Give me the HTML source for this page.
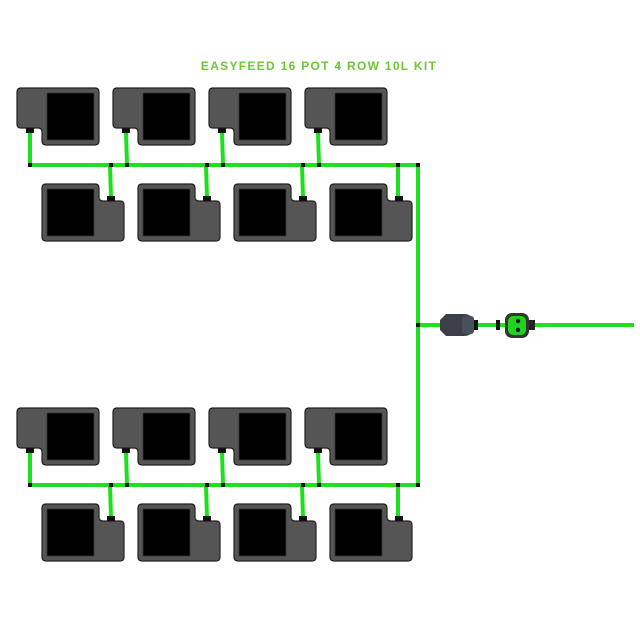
<!DOCTYPE html>
<html><head><meta charset="utf-8"><style>html,body{margin:0;padding:0;background:#fff}svg{display:block}</style></head><body>
<svg width="640" height="640" viewBox="0 0 640 640" xmlns="http://www.w3.org/2000/svg">
<defs>
<g id="pot">
<path d="M4,0 H78 Q82,0 82,4 V53 Q82,57 78,57 H29 Q25,57 25,53 V44 Q25,40 21,40 H4 Q0,40 0,36 V4 Q0,0 4,0Z" fill="#555" stroke="#222" stroke-width="1.2"/>
<rect x="30" y="5" width="47" height="47" fill="#000" stroke="#333" stroke-width="0.8"/>
</g>
<g id="grp">
<line x1="30" y1="77" x2="418" y2="77" stroke="#1ee01e" stroke-width="4"/>
<g stroke="#1ee01e" stroke-width="4">
<line x1="30" y1="44" x2="30" y2="77"/><line x1="126" y1="44" x2="127" y2="77"/><line x1="222" y1="44" x2="223" y2="77"/><line x1="318" y1="44" x2="319" y2="77"/>
<line x1="110" y1="77" x2="111" y2="110"/><line x1="206" y1="77" x2="207" y2="110"/><line x1="302" y1="77" x2="303" y2="110"/><line x1="398" y1="77" x2="398" y2="110"/>
</g>
<use href="#pot" x="17" y="0"/><use href="#pot" x="113" y="0"/><use href="#pot" x="209" y="0"/><use href="#pot" x="305" y="0"/>
<use href="#pot" transform="translate(124,153) rotate(180)"/><use href="#pot" transform="translate(220,153) rotate(180)"/><use href="#pot" transform="translate(316,153) rotate(180)"/><use href="#pot" transform="translate(412,153) rotate(180)"/>
<g fill="#111">
<rect x="26" y="40" width="8" height="5"/><rect x="122" y="40" width="8" height="5"/><rect x="218" y="40" width="8" height="5"/><rect x="314" y="40" width="8" height="5"/>
<rect x="107" y="108" width="8" height="5"/><rect x="203" y="108" width="8" height="5"/><rect x="299" y="108" width="8" height="5"/><rect x="395" y="108" width="8" height="5"/>
<rect x="28" y="75" width="4" height="4"/><rect x="109" y="75" width="4" height="4"/><rect x="125" y="75" width="4" height="4"/><rect x="205" y="75" width="4" height="4"/><rect x="221" y="75" width="4" height="4"/><rect x="301" y="75" width="4" height="4"/><rect x="317" y="75" width="4" height="4"/><rect x="396" y="75" width="4" height="4"/><rect x="416" y="75" width="4" height="4"/>
</g>
</g>
</defs>
<text x="319" y="70" text-anchor="middle" font-family="Liberation Sans, sans-serif" font-size="12" font-weight="bold" letter-spacing="1.3" fill="#6cc834">EASYFEED 16 POT 4 ROW 10L KIT</text>
<line x1="418" y1="165" x2="418" y2="487" stroke="#1ee01e" stroke-width="4"/>
<line x1="418" y1="325" x2="634" y2="325" stroke="#1ee01e" stroke-width="4"/>
<rect x="416" y="323" width="4" height="4" fill="#111"/>
<use href="#grp" x="0" y="88"/>
<use href="#grp" x="0" y="408"/>
<path d="M440,320 l6,-6 h18 q6,0 8,4 v14 q-2,4 -8,4 h-18 l-6,-6z" fill="#3a3f48"/>
<rect x="462" y="316" width="12" height="18" rx="3" fill="#4a505a"/>
<rect x="474" y="320" width="4" height="10" fill="#111"/>
<rect x="496" y="320" width="4" height="10" fill="#111"/>
<rect x="526" y="320" width="9" height="10" fill="#222"/>
<rect x="505" y="313" width="24" height="25" rx="7" fill="#333"/>
<rect x="508" y="316" width="18" height="19" rx="5" fill="#1ed41e"/>
<circle cx="518" cy="321" r="2.2" fill="#111"/><circle cx="518" cy="330" r="2.2" fill="#111"/>
</svg>
</body></html>
